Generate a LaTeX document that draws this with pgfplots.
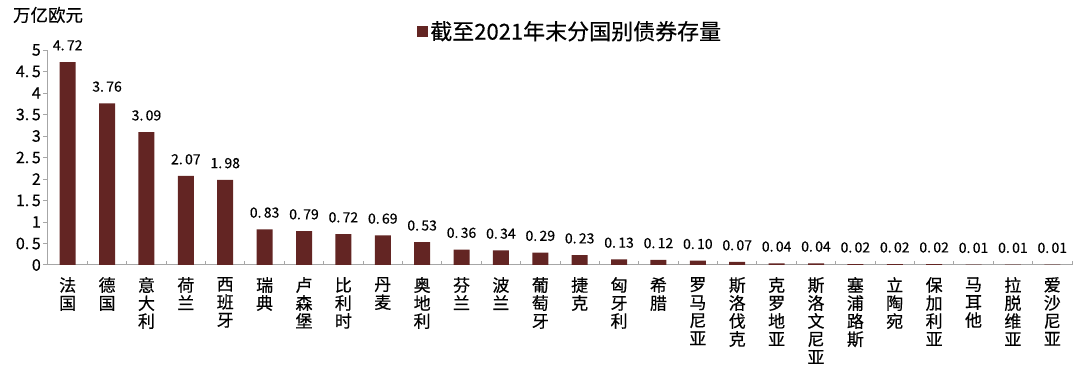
\documentclass[border=0pt]{standalone}
\usepackage{fontspec}
\setmainfont{Noto Sans CJK SC}[FakeBold=0.4]
\usepackage{pgfplots}
\pgfplotsset{compat=1.18}
\definecolor{barc}{HTML}{632523}
\definecolor{axc}{HTML}{A6A6A6}
\begin{document}
\begin{tikzpicture}
\path[use as bounding box] (-48pt,-107pt) rectangle (1032pt,265pt);
\begin{axis}[
  at={(0,0)}, anchor=south west,
  scale only axis, width=1024pt, height=215pt,
  xmin=-0.5, xmax=25.5, ymin=0, ymax=5,
  clip=false,
  axis x line*=bottom, axis y line*=left,
  axis line style={draw=axc, line width=1pt},
  tick align=outside,
  major tick length=5pt, minor tick length=4pt,
  ytick={0,0.5,...,5},
  yticklabels={0,0.\,5,1,1.\,5,2,2.\,5,3,3.\,5,4,4.\,5,5},
  y tick style={draw=axc, line width=1pt},
  yticklabel style={font=\fontsize{16}{16}\selectfont, inner sep=2pt},
  xtick={0,...,25},
  major x tick style={draw=none},
  minor xtick={0.5,1.5,...,25.5},
  minor x tick style={draw=axc, line width=1pt, yshift=4pt},
  xticklabels={{法\\国},{德\\国},{意\\大\\利},{荷\\兰},{西\\班\\牙},{瑞\\典},{卢\\森\\堡},{比\\利\\时},{丹\\麦},{奥\\地\\利},{芬\\兰},{波\\兰},{葡\\萄\\牙},{捷\\克},{匈\\牙\\利},{希\\腊},{罗\\马\\尼\\亚},{斯\\洛\\伐\\克},{克\\罗\\地\\亚},{斯\\洛\\文\\尼\\亚},{塞\\浦\\路\\斯},{立\\陶\\宛},{保\\加\\利\\亚},{马\\耳\\他},{拉\\脱\\维\\亚},{爱\\沙\\尼\\亚}},
  xticklabel style={font=\fontsize{17}{18}\selectfont, align=center, anchor=north, inner sep=0pt, yshift=-7pt},
  legend style={at={(rel axis cs:0.51,1.088)}, anchor=center, draw=none, fill=none, font=\fontsize{22}{22}\selectfont, inner sep=0pt},
]
\addplot[ybar, bar width=16pt, fill=barc, draw=none,
  legend image code/.code={\fill[barc] (0pt,-5.5pt) rectangle (11pt,5.5pt);},
  nodes near coords, point meta=explicit symbolic,
  nodes near coords style={font=\fontsize{14}{14}\selectfont, yshift=8pt, text=black}]
coordinates {
(0,4.72)[4.\,72] (1,3.76)[3.\,76] (2,3.09)[3.\,09] (3,2.07)[2.\,07] (4,1.98)[1.\,98]
(5,0.83)[0.\,83] (6,0.79)[0.\,79] (7,0.72)[0.\,72] (8,0.69)[0.\,69] (9,0.53)[0.\,53]
(10,0.36)[0.\,36] (11,0.34)[0.\,34] (12,0.29)[0.\,29] (13,0.23)[0.\,23] (14,0.13)[0.\,13]
(15,0.12)[0.\,12] (16,0.10)[0.\,10] (17,0.07)[0.\,07] (18,0.04)[0.\,04] (19,0.04)[0.\,04]
(20,0.02)[0.\,02] (21,0.02)[0.\,02] (22,0.02)[0.\,02] (23,0.01)[0.\,01] (24,0.01)[0.\,01]
(25,0.01)[0.\,01]
};
\addlegendentry{截至2021年末分国别债券存量}
\node[font=\fontsize{17.5}{17.5}\selectfont] at (rel axis cs:0,1.163) {万亿欧元};
\end{axis}
\end{tikzpicture}
\end{document}
